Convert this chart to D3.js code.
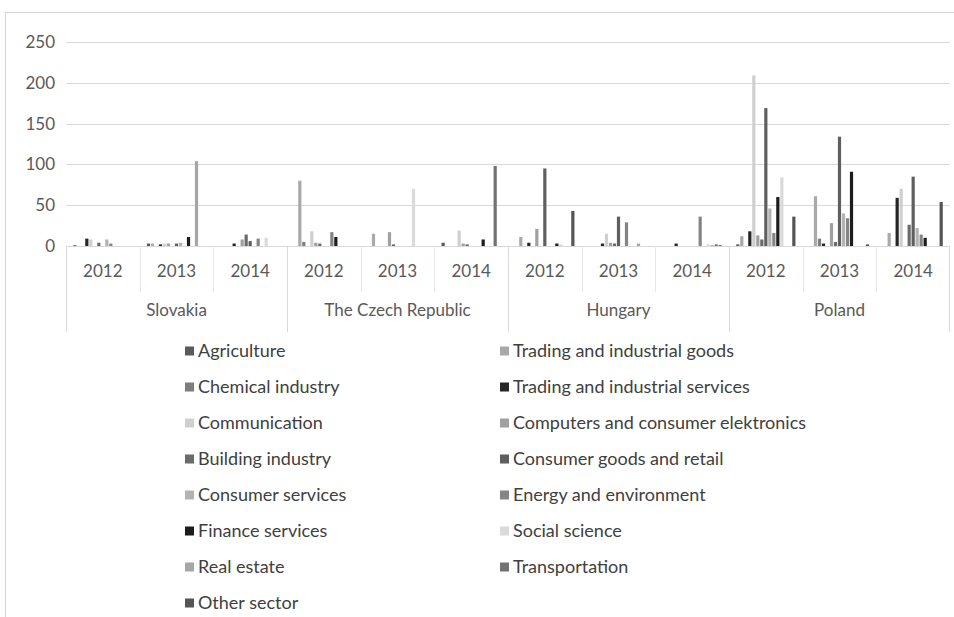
<!DOCTYPE html>
<html>
<head>
<meta charset="utf-8">
<script src="https://cdn.jsdelivr.net/npm/d3@7"></script>
<style>
    body { margin: 0; background: #fff; }
    svg text { font-family: Lato, "Liberation Sans", sans-serif; }
    .tick-label { font-size: 17px; fill: #595959; }
    .legend-label { font-size: 18px; fill: #404040; }
</style>
</head>
<body>
<svg id="chart" width="954" height="617"></svg>
<script>
// categories
const countries = ["Slovakia", "The Czech Republic", "Hungary", "Poland"];
const years = ["2012", "2013", "2014"];
const sectors = [
    "Agriculture", "Trading and industrial goods", "Chemical industry",
    "Trading and industrial services", "Communication", "Computers and consumer elektronics",
    "Building industry", "Consumer goods and retail", "Consumer services",
    "Energy and environment", "Finance services", "Social science",
    "Real estate", "Transportation", "Other sector"
];
const yTicks = [0, 50, 100, 150, 200, 250];

// values per sector, one per country-year (SK12..SK14, CZ12..CZ14, HU12..HU14, PL12..PL14)
const agriculture      = [1, 3, 0,  0, 0, 4,  0, 0, 0,  2, 0, 0];
const tradingGoods     = [0, 3, 0,  80, 15, 0,  11, 0, 0,  12, 61, 16];
const chemical         = [0, 0, 0,  5, 0, 0,  0, 0, 0,  0, 9, 0];
const tradingServices  = [9, 2, 3,  0, 0, 0,  4, 3, 3,  18, 3, 59];
const communication    = [8, 3, 0,  18, 0, 19,  0, 15, 0,  209, 0, 70];
const computers        = [0, 3, 8,  4, 17, 3,  21, 4, 0,  13, 28, 0];
const building         = [4, 0, 14,  3, 2, 2,  0, 3, 0,  8, 5, 26];
const consumerGoods    = [0, 3, 6,  0, 0, 0,  95, 36, 0,  169, 134, 85];
const consumerServices = [8, 4, 0,  0, 0, 0,  0, 0, 0,  46, 40, 22];
const energy           = [3, 0, 9,  17, 0, 0,  0, 29, 36,  16, 34, 14];
const finance          = [0, 11, 0,  11, 0, 8,  3, 0, 0,  60, 91, 10];
const socialScience    = [0, 0, 10,  0, 70, 0,  2, 0, 2,  84, 0, 0];
const realEstate       = [0, 104, 0,  0, 0, 0,  0, 3, 1,  0, 0, 0];
const transportation   = [0, 0, 0,  0, 0, 98,  0, 0, 2,  0, 0, 0];
const otherSector      = [0, 0, 0,  0, 0, 0,  43, 0, 1,  36, 2, 54];

const series = [agriculture, tradingGoods, chemical, tradingServices, communication, computers,
    building, consumerGoods, consumerServices, energy, finance, socialScience,
    realEstate, transportation, otherSector];

const sectorColors = ["#5a5a5a", "#a9a9a9", "#7d7d7d", "#262626", "#cfcfcf", "#a0a0a0",
    "#6b6b6b", "#5f5f5f", "#b3b3b3", "#858585", "#1c1c1c", "#dadada",
    "#a6a6a6", "#727272", "#555555"];

const svg = d3.select("#chart");
const margin = { top: 42, left: 66, right: 950, bottom: 246 };

// frame round the chart
svg.append("rect")
    .attr("x", 5.5).attr("y", 12.5)
    .attr("width", 970).attr("height", 620)
    .attr("fill", "none").attr("stroke", "#d4d4d4");

// scales
const cats = countries.flatMap(c => years.map(y => c + "|" + y));
const x0 = d3.scaleBand().domain(cats).range([margin.left, margin.right]).paddingInner(0.185).paddingOuter(0.0925);
const x1 = d3.scaleBand().domain(d3.range(sectors.length)).range([0, x0.bandwidth()]);
const y = d3.scaleLinear().domain([0, 250]).range([margin.bottom, margin.top]);
const step = x0.step();

// gridlines and y labels
svg.append("g").selectAll("line")
    .data(yTicks)
    .join("line")
    .attr("x1", margin.left).attr("x2", margin.right)
    .attr("y1", d => Math.round(y(d)) + 0.5).attr("y2", d => Math.round(y(d)) + 0.5)
    .attr("stroke", "#d9d9d9");

svg.append("g").selectAll("text")
    .data(yTicks)
    .join("text")
    .classed("tick-label", true)
    .attr("x", 55)
    .attr("y", d => y(d) + 6)
    .attr("text-anchor", "end")
    .text(d => d);

// bars
const bars = [];
series.forEach((vals, s) => vals.forEach((v, c) => bars.push({ s, c, v })));

svg.append("g").selectAll("rect")
    .data(bars.filter(d => d.v > 0))
    .join("rect")
    .attr("x", d => x0(cats[d.c]) + x1(d.s) + 0.4)
    .attr("width", x1.bandwidth() - 0.8)
    .attr("y", d => y(d.v))
    .attr("height", d => y(0) - y(d.v))
    .attr("fill", d => sectorColors[d.s]);

// multi-level category axis
const axis = svg.append("g");
cats.forEach((c, i) => {
    const left = margin.left + i * step;
    const isCountryEdge = i % 3 === 0;
    axis.append("line")
        .attr("x1", Math.round(left) + 0.5).attr("x2", Math.round(left) + 0.5)
        .attr("y1", margin.bottom).attr("y2", isCountryEdge ? 332 : 292)
        .attr("stroke", isCountryEdge ? "#d9d9d9" : "#e8e8e8");
    axis.append("text")
        .classed("tick-label", true)
        .attr("x", x0(c) + x0.bandwidth() / 2)
        .attr("y", 277)
        .attr("text-anchor", "middle")
        .text(c.split("|")[1]);
});
axis.append("line")
    .attr("x1", margin.right - 0.5).attr("x2", margin.right - 0.5)
    .attr("y1", margin.bottom).attr("y2", 332)
    .attr("stroke", "#d9d9d9");

countries.forEach((c, i) => {
    axis.append("text")
        .classed("tick-label", true)
        .attr("x", margin.left + (i * 3 + 1.5) * step)
        .attr("y", 316)
        .attr("text-anchor", "middle")
        .text(c);
});

// legend, two columns filled row by row
const legend = svg.append("g").selectAll("g")
    .data(sectors)
    .join("g")
    .attr("transform", (d, i) => `translate(${i % 2 === 0 ? 185 : 500}, ${351 + Math.floor(i / 2) * 36})`);

legend.append("rect")
    .attr("x", 0).attr("y", -4.5)
    .attr("width", 9).attr("height", 9)
    .attr("fill", (d, i) => sectorColors[i]);

legend.append("text")
    .classed("legend-label", true)
    .attr("x", 13)
    .attr("y", 6)
    .text(d => d);
</script>
</body>
</html>
